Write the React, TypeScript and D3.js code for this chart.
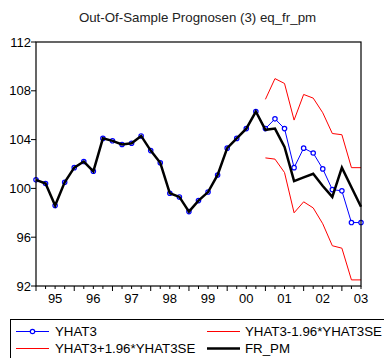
import * as d3 from "d3";

// quarterly sample 1995Q1 .. 2003Q3
const years = [95, 96, 97, 98, 99, 0, 1, 2, 3];
const quarters: string[] = [];
years.forEach((yr) => {
    for (let q = 1; q <= 4; q++) {
        if (yr === 3 && q > 3) break;
        quarters.push(`${String(yr).padStart(2, "0")}Q${q}`);
    }
});

const yearLabels = ["95", "96", "97", "98", "99", "00", "01", "02", "03"];
const yTicks = [92, 96, 100, 104, 108, 112];

// actual series
const frPm = [
    100.7, 100.4, 98.6, 100.5, 101.7, 102.2, 101.4, 104.1, 103.9, 103.6,
    103.7, 104.3, 103.1, 102.1, 99.6, 99.3, 98.1, 99.0, 99.7, 101.1,
    103.3, 104.1, 104.9, 106.3, 104.8, 104.9, 103.4, 100.6, 100.9, 101.2,
    100.2, 99.3, 101.7, 100.1, 98.5,
];

// fitted / forecast (in-sample equals actual)
const yhat3 = [
    100.7, 100.4, 98.6, 100.5, 101.7, 102.2, 101.4, 104.1, 103.9, 103.6,
    103.7, 104.3, 103.1, 102.1, 99.6, 99.3, 98.1, 99.0, 99.7, 101.1,
    103.3, 104.1, 104.9, 106.3, 104.9, 105.7, 104.9, 101.7, 103.3, 102.9,
    101.6, 99.9, 99.8, 97.2, 97.2,
];

// bands, forecast period only (from 01Q1)
const bandStart = 24;
const upper = [107.3, 109.0, 108.6, 105.6, 107.7, 107.4, 106.2, 104.5, 104.4, 101.7, 101.7];
const lower = [102.5, 102.4, 101.3, 98.0, 98.9, 98.4, 97.1, 95.3, 95.1, 92.5, 92.5];

const W = 384;
const H = 358;
const frame = { left: 36, right: 361, top: 42, bottom: 286 };
const font = "'Liberation Sans', Arial, sans-serif";
const legendSize = 13.3;

export default function App() {
    const x = d3
        .scalePoint<string>()
        .domain(quarters)
        .range([frame.left, frame.right])
        .padding(0);
    const y = d3.scaleLinear().domain([92, 112]).range([frame.bottom, frame.top]);

    const line = d3
        .line<number>()
        .x((_, i) => x(quarters[i])!)
        .y((d) => y(d));

    const bandLine = d3
        .line<number>()
        .x((_, i) => x(quarters[i + bandStart])!)
        .y((d) => y(d));

    const step = x.step();

    return (
        <div style={{ position: "absolute", left: 0, top: 0 }}>
            <svg width={W} height={H} fontFamily={font}>
                <rect width={W} height={H} fill="#fff" />
                <text x={197.5} y={22} textAnchor="middle" fontSize={13.3} fill="#222">
                    Out-Of-Sample Prognosen (3) eq_fr_pm
                </text>

                {/* y axis */}
                {yTicks.map((t) => (
                    <g key={t}>
                        <line x1={frame.left - 5} x2={frame.left} y1={y(t)} y2={y(t)} stroke="#000" />
                        <text x={31} y={y(t)} dy="0.35em" textAnchor="end" fontSize={13}>
                            {t}
                        </text>
                    </g>
                ))}

                {/* x axis ticks */}
                {quarters.map((q, i) => (
                    <line
                        key={q}
                        x1={x(q)}
                        x2={x(q)}
                        y1={frame.bottom}
                        y2={frame.bottom + (i % 4 === 0 ? 5 : 3)}
                        stroke="#000"
                    />
                ))}
                {yearLabels.map((lab, k) => (
                    <text
                        key={lab}
                        x={x(quarters[0])! + (k * 4 + 2) * step}
                        y={303}
                        textAnchor="middle"
                        fontSize={13}
                    >
                        {lab}
                    </text>
                ))}

                {/* series */}
                <path d={bandLine(lower)!} fill="none" stroke="#ff0000" strokeWidth={1} />
                <path d={bandLine(upper)!} fill="none" stroke="#ff0000" strokeWidth={1} />
                <path d={line(yhat3)!} fill="none" stroke="#0000ff" strokeWidth={1} />
                {yhat3.map((v, i) => (
                    <circle
                        key={i}
                        cx={x(quarters[i])}
                        cy={y(v)}
                        r={2.2}
                        fill="#fff"
                        stroke="#0000ff"
                        strokeWidth={1.2}
                    />
                ))}
                <path d={line(frPm)!} fill="none" stroke="#000" strokeWidth={2.5} strokeLinejoin="miter" />

                <rect
                    x={frame.left}
                    y={frame.top}
                    width={frame.right - frame.left}
                    height={frame.bottom - frame.top}
                    fill="none"
                    stroke="#000"
                    strokeWidth={1.2}
                />

                {/* legend */}
                <rect x={10.5} y={319.5} width={400} height={60} fill="none" stroke="#000" />
                <line x1={16} x2={49} y1={331.5} y2={331.5} stroke="#0000ff" />
                <circle cx={32.5} cy={331.5} r={2.2} fill="#fff" stroke="#0000ff" strokeWidth={1.2} />
                <text x={55} y={331.5} dy="0.35em" fontSize={legendSize}>YHAT3</text>
                <line x1={207} x2={240} y1={331.5} y2={331.5} stroke="#ff0000" />
                <text x={245} y={331.5} dy="0.35em" fontSize={legendSize}>YHAT3-1.96*YHAT3SE</text>
                <line x1={16} x2={49} y1={348.5} y2={348.5} stroke="#ff0000" />
                <text x={55} y={348.5} dy="0.35em" fontSize={legendSize}>YHAT3+1.96*YHAT3SE</text>
                <line x1={207} x2={240} y1={348.5} y2={348.5} stroke="#000" strokeWidth={2.5} />
                <text x={245} y={348.5} dy="0.35em" fontSize={legendSize}>FR_PM</text>
            </svg>
        </div>
    );
}
